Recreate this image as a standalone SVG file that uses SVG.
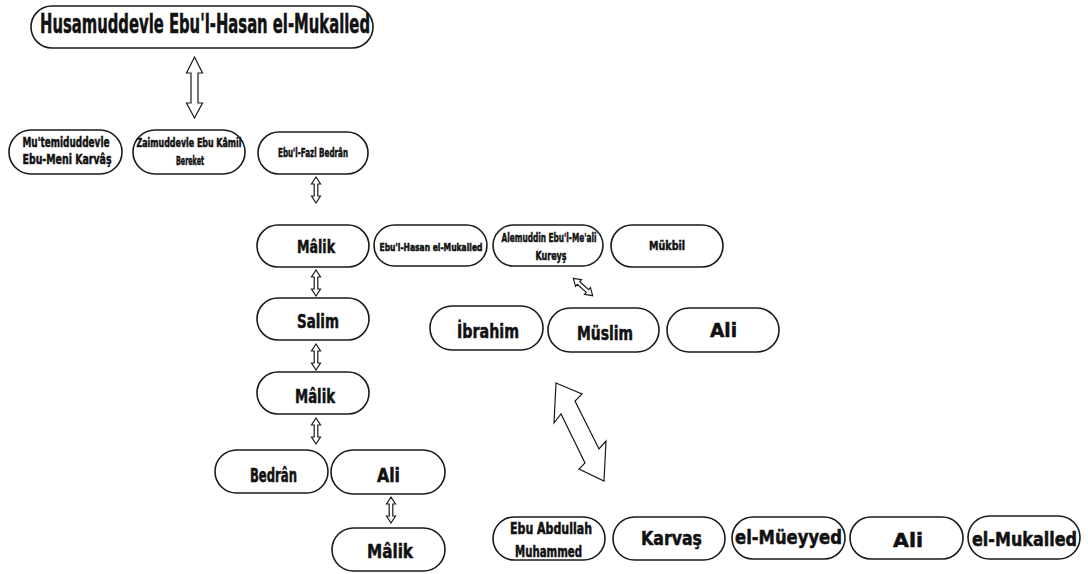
<svg xmlns="http://www.w3.org/2000/svg" width="1088" height="574" viewBox="0 0 1088 574">
<style>
.box{fill:#fff;stroke:#1a1a1a;stroke-width:1.6}
.t{font-family:"Liberation Sans Narrow","DejaVu Sans Condensed","Liberation Sans",sans-serif;font-weight:bold;fill:#111;stroke:#111;stroke-width:0.5;text-anchor:middle}
.arr{fill:#fff;stroke:#1a1a1a;stroke-width:1.2;stroke-linejoin:miter}
</style>
<defs>
<path id="sa" d="M0,-13 L4.5,-6 L1.8,-6 L1.8,6 L4.5,6 L0,13 L-4.5,6 L-1.8,6 L-1.8,-6 L-4.5,-6 Z"/>
</defs>
<rect width="1088" height="574" fill="#fff"/>

<g id="connectors">
<path class="arr" d="M194.5,57 L202.5,73 L198,73 L198,103 L202.5,103 L194.5,118 L186.5,103 L191,103 L191,73 L186.5,73 Z"/>
<use href="#sa" class="arr" x="316" y="190"/>
<use href="#sa" class="arr" x="316" y="283"/>
<use href="#sa" class="arr" x="316" y="357"/>
<use href="#sa" class="arr" x="316" y="431"/>
<use href="#sa" class="arr" x="391" y="510"/>
<use href="#sa" class="arr" transform="translate(583,287) rotate(-48)"/>
<path class="arr" d="M556,383 L582,394 L575,401 L599,449 L606,441 L604,481 L579,469 L585,463 L561,414 L554,423 Z"/>
</g>

<g id="n_top"><rect class="box" x="31" y="6" width="342" height="42" rx="21"/><text class="t" x="205" y="33" font-size="26" textLength="330" lengthAdjust="spacingAndGlyphs">Husamuddevle Ebu'l-Hasan el-Mukalled</text></g>

<g id="n_mutemid"><rect class="box" x="9" y="130" width="113" height="44" rx="22"/><text class="t" x="66" y="147" font-size="14" textLength="87" lengthAdjust="spacingAndGlyphs">Mu'temiduddevle</text><text class="t" x="67" y="164" font-size="14" textLength="89" lengthAdjust="spacingAndGlyphs">Ebu-Meni Karvâş</text></g>

<g id="n_zaim"><rect class="box" x="133" y="130" width="112" height="44" rx="22"/><text class="t" x="189" y="147" font-size="12" textLength="105" lengthAdjust="spacingAndGlyphs">Zaimuddevle Ebu Kâmil</text><text class="t" x="190" y="165" font-size="12" textLength="28" lengthAdjust="spacingAndGlyphs">Bereket</text></g>

<g id="n_fazl"><rect class="box" x="258" y="132" width="110" height="42" rx="21"/><text class="t" x="313" y="157" font-size="12" textLength="70" lengthAdjust="spacingAndGlyphs">Ebu'l-Fazl Bedrân</text></g>

<g id="n_malik1"><rect class="box" x="257" y="225" width="112" height="42" rx="21"/><text class="t" x="316" y="253" font-size="18" textLength="38" lengthAdjust="spacingAndGlyphs">Mâlik</text></g>

<g id="n_hasan"><rect class="box" x="374" y="225" width="113" height="41" rx="20.5"/><text class="t" x="431" y="251" font-size="11" textLength="103" lengthAdjust="spacingAndGlyphs">Ebu'l-Hasan el-Mukalled</text></g>

<g id="n_alem"><rect class="box" x="493" y="225" width="110" height="41" rx="20.5"/><text class="t" x="549" y="242" font-size="13" textLength="95" lengthAdjust="spacingAndGlyphs">Alemuddin Ebu'l-Me'ali</text><text class="t" x="551" y="260" font-size="12" textLength="31" lengthAdjust="spacingAndGlyphs">Kureyş</text></g>

<g id="n_mukbil"><rect class="box" x="611" y="225" width="112" height="42" rx="21"/><text class="t" x="667" y="250" font-size="13" textLength="36" lengthAdjust="spacingAndGlyphs">Mükbil</text></g>

<g id="n_salim"><rect class="box" x="257" y="298" width="112" height="42" rx="21"/><text class="t" x="318" y="328" font-size="20" textLength="42" lengthAdjust="spacingAndGlyphs">Salim</text></g>

<g id="n_ibrahim"><rect class="box" x="430" y="306" width="113" height="44" rx="22"/><text class="t" x="488" y="338" font-size="20" textLength="62" lengthAdjust="spacingAndGlyphs">İbrahim</text></g>

<g id="n_muslim"><rect class="box" x="548" y="308" width="111" height="44" rx="22"/><text class="t" x="605" y="340" font-size="19" textLength="56" lengthAdjust="spacingAndGlyphs">Müslim</text></g>

<g id="n_ali1"><rect class="box" x="667" y="308" width="112" height="44" rx="22"/><text class="t" x="723.5" y="337" font-size="20" textLength="27" lengthAdjust="spacingAndGlyphs">Ali</text></g>

<g id="n_malik2"><rect class="box" x="257" y="372" width="112" height="42" rx="21"/><text class="t" x="315" y="403" font-size="19" textLength="40" lengthAdjust="spacingAndGlyphs">Mâlik</text></g>

<g id="n_bedran"><rect class="box" x="215" y="450" width="113" height="43" rx="21.5"/><text class="t" x="273.5" y="482" font-size="19" textLength="47" lengthAdjust="spacingAndGlyphs">Bedrân</text></g>

<g id="n_ali2"><rect class="box" x="331" y="450" width="114" height="44" rx="22"/><text class="t" x="388.5" y="482" font-size="19" textLength="23" lengthAdjust="spacingAndGlyphs">Ali</text></g>

<g id="n_malik3"><rect class="box" x="332" y="528" width="113" height="43" rx="21.5"/><text class="t" x="390" y="558" font-size="20" textLength="46" lengthAdjust="spacingAndGlyphs">Mâlik</text></g>

<g id="n_abdullah"><rect class="box" x="493" y="517" width="112" height="43" rx="21.5"/><text class="t" x="551" y="534" font-size="15" textLength="82" lengthAdjust="spacingAndGlyphs">Ebu Abdullah</text><text class="t" x="548.5" y="557" font-size="15" textLength="67" lengthAdjust="spacingAndGlyphs">Muhammed</text></g>

<g id="n_karvas"><rect class="box" x="613" y="517" width="112" height="43" rx="21.5"/><text class="t" x="671.5" y="545" font-size="20" textLength="61" lengthAdjust="spacingAndGlyphs">Karvaş</text></g>

<g id="n_mueyyed"><rect class="box" x="732" y="517" width="113" height="42" rx="21"/><text class="t" x="788.5" y="544" font-size="20" textLength="107" lengthAdjust="spacingAndGlyphs">el-Müeyyed</text></g>

<g id="n_ali3"><rect class="box" x="850" y="517" width="113" height="42" rx="21"/><text class="t" x="908" y="547" font-size="20" textLength="30" lengthAdjust="spacingAndGlyphs">Ali</text></g>

<g id="n_mukalled"><rect class="box" x="968" y="516" width="112" height="43" rx="21.5"/><text class="t" x="1024.5" y="546" font-size="20" textLength="105" lengthAdjust="spacingAndGlyphs">el-Mukalled</text></g>
</svg>
